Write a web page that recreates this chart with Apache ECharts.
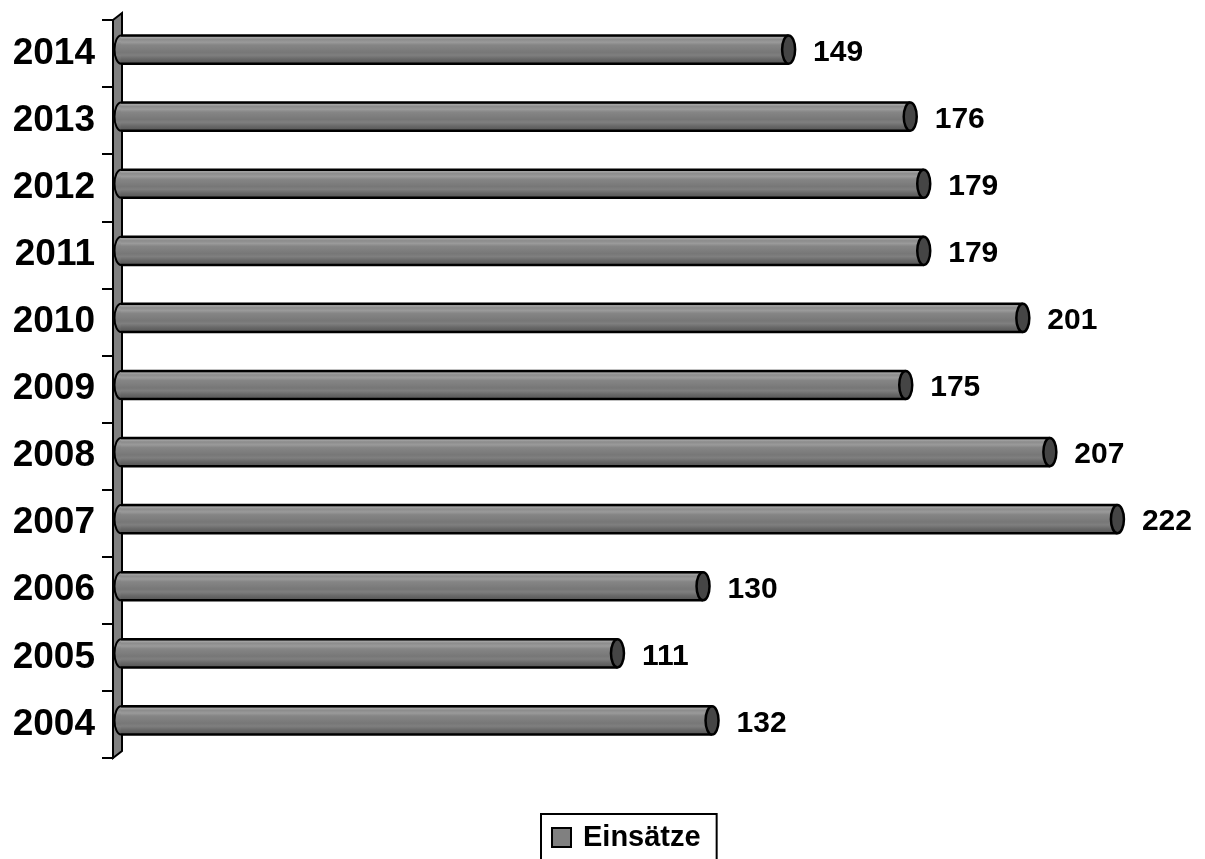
<!DOCTYPE html>
<html>
<head>
<meta charset="utf-8">
<script src="https://cdn.jsdelivr.net/npm/echarts@6/dist/echarts.min.js"></script>
<style>
html,body{margin:0;padding:0;background:#fff;}
#c{width:1205px;height:859px;}
</style>
</head>
<body>
<div id="c"></div>
<script>
const years = ['2004','2005','2006','2007','2008','2009','2010','2011','2012','2013','2014'];
const einsaetze = [132, 111, 130, 222, 207, 175, 201, 179, 179, 176, 149];
const seriesName = 'Einsätze';

const FONT = '"Liberation Sans", Arial, sans-serif';
const chart = echarts.init(document.getElementById('c'));

function barGradient() {
  return new echarts.graphic.LinearGradient(0, 0, 0, 1, [
    {offset: 0, color: '#6a6a6a'},
    {offset: 0.07, color: '#a4a4a4'},
    {offset: 0.14, color: '#8c8c8c'},
    {offset: 0.24, color: '#9a9a9a'},
    {offset: 0.34, color: '#858585'},
    {offset: 0.48, color: '#7e7e7e'},
    {offset: 0.6, color: '#777777'},
    {offset: 0.7, color: '#7f7f7f'},
    {offset: 0.84, color: '#686868'},
    {offset: 1, color: '#555555'}
  ]);
}

function renderItem(params, api) {
  const v = api.value(0);
  const ci = api.value(1);
  const start = api.coord([0, ci]);
  const end = api.coord([v, ci]);
  const band = api.size([0, 1])[1];
  const h = band * 0.42;
  const cy = end[1] - 4;
  const rx = 6.5;
  const x0 = start[0] - 3;
  const x1 = end[0];
  return {
    type: 'group',
    children: [
      {type: 'ellipse', shape: {cx: x0, cy: cy, rx: rx, ry: h / 2},
       style: {fill: barGradient(), stroke: '#000', lineWidth: 2}},
      {type: 'rect', shape: {x: x0, y: cy - h / 2, width: x1 - rx - x0, height: h},
       style: {fill: barGradient()}},
      {type: 'line', shape: {x1: x0, y1: cy - h / 2, x2: x1 - rx, y2: cy - h / 2},
       style: {stroke: '#000', lineWidth: 2.5}},
      {type: 'line', shape: {x1: x0, y1: cy + h / 2, x2: x1 - rx, y2: cy + h / 2},
       style: {stroke: '#000', lineWidth: 2.5}},
      {type: 'ellipse', shape: {cx: x1 - rx, cy: cy, rx: rx, ry: h / 2},
       style: {fill: '#454545', stroke: '#000', lineWidth: 2.5}},
      {type: 'text', style: {text: String(v), x: x1 + 18, y: cy + 3,
        align: 'left', verticalAlign: 'middle',
        font: 'bold 30px ' + FONT, fill: '#000'}}
    ]
  };
}

const option = {
  backgroundColor: '#fff',
  animation: false,
  grid: {left: 124, right: 0, top: 20, bottom: 101},
  xAxis: {type: 'value', min: 0, max: 240, show: false},
  yAxis: {
    type: 'category',
    data: years,
    offset: 11,
    axisLine: {show: true, onZero: false, lineStyle: {color: '#000', width: 2}},
    axisTick: {show: true, inside: false, length: 11, lineStyle: {color: '#000', width: 2}},
    axisLabel: {margin: 18, fontSize: 37, fontWeight: 'bold', fontFamily: FONT, color: '#000'},
    splitLine: {show: false}
  },
  legend: {
    data: [seriesName],
    left: 541, top: 814,
    padding: [9, 16, 16, 10],
    borderColor: '#000', borderWidth: 2,
    itemWidth: 19, itemHeight: 19,
    icon: 'rect',
    itemStyle: {color: '#808080', borderColor: '#000', borderWidth: 2},
    textStyle: {fontSize: 29, fontWeight: 'bold', fontFamily: FONT, color: '#000', padding: [0, 0, 0, 7]}
  },
  graphic: [{
    type: 'polygon', z: -10,
    shape: {points: [[113, 20], [122, 13], [122, 751], [113, 758]]},
    style: {fill: '#808080', stroke: '#000', lineWidth: 2}
  }],
  series: [{
    type: 'custom',
    name: seriesName,
    z: 10,
    renderItem: renderItem,
    itemStyle: {color: '#808080', borderColor: '#000', borderWidth: 2},
    encode: {x: 0, y: 1},
    data: einsaetze.map((v, i) => [v, i])
  }]
};
chart.setOption(option);
</script>
</body>
</html>
